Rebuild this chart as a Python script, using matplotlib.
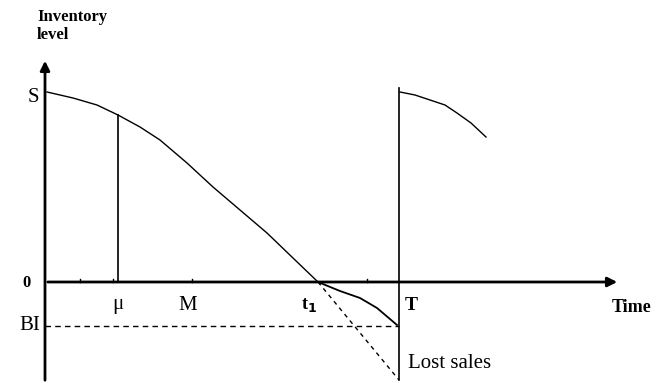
import numpy as np
import matplotlib.pyplot as plt

plt.rcParams['font.family'] = ['Liberation Serif', 'DejaVu Serif']

# Inventory level over the first cycle (time, level)
cycle_time = [2, 28, 52, 73, 95, 115, 142, 168, 195, 222, 248, 273]
cycle_level = [190, 184, 177, 167, 155, 142, 119, 95, 72, 49, 24, 0]

# Backlogged part after t1
back_time = [273, 295, 315, 332, 352]
back_level = [0, -9, -16, -26, -43]

# Start of the next cycle
next_time = [355, 370, 385, 400, 412, 426, 441]
next_level = [190, 187, 182, 177, 169, 159, 145]

S = 190
BI = -44
lost_bottom = -98
mu, M, t1, T = 73, 147, 273, 354
minor_ticks = [35, 68, 147, 322]

fig = plt.figure(figsize=(6.56, 3.83), dpi=100)
ax = fig.add_axes([0, 0, 1, 1])
ax.set_xlim(-45, 611)
ax.set_ylim(-101, 282)
ax.axis('off')

# axes with arrows
ax.annotate('', xy=(575, 0), xytext=(0, 0),
            arrowprops=dict(arrowstyle='-|>', lw=2, color='black', mutation_scale=14))
ax.annotate('', xy=(0, 224), xytext=(0, -101),
            arrowprops=dict(arrowstyle='-|>', lw=2, color='black', mutation_scale=14))

# curves
ax.plot(cycle_time, cycle_level, color='black', lw=1)
ax.plot(back_time, back_level, color='black', lw=1.3)
ax.plot(next_time, next_level, color='black', lw=1)

# verticals
ax.plot([mu, mu], [0, 167], color='black', lw=1.2)
ax.plot([T, T], [lost_bottom, 194], color='black', lw=1.2)

# dashed lines
ax.plot([0, T], [BI, BI], color='black', lw=1, ls=(0, (4, 3)))
ax.plot([t1, T], [0, lost_bottom], color='black', lw=1, ls=(0, (3, 3)))

# small ticks on the time axis
for tx in minor_ticks:
    ax.plot([tx, tx], [0, 3], color='black', lw=1)

# labels
ax.text(-8, 256, 'Inventory\nlevel', fontsize=12, fontweight='bold',
        ha='left', va='center', linespacing=1.1)
ax.text(-6, S - 5, 'S', fontsize=15, ha='right', va='center')
ax.text(-14, -1, '0', fontsize=12, fontweight='bold', ha='right', va='center')
ax.text(-5, BI, 'BI', fontsize=15, ha='right', va='center')
ax.text(mu, -23, 'μ', fontsize=15, ha='center', va='center')
ax.text(M - 4, -23, 'M', fontsize=15, ha='center', va='center')
ax.text(t1 - 9, -23, 't$_\\mathbf{1}$', fontsize=13, fontweight='bold', ha='center', va='center')
ax.text(T + 12, -24, 'T', fontsize=14, fontweight='bold', ha='center', va='center')
ax.text(587, -26, 'Time', fontsize=13, fontweight='bold', ha='center', va='center')
ax.text(T + 9, -82, 'Lost sales', fontsize=15, ha='left', va='center')

fig.savefig('out.png', dpi=100)
